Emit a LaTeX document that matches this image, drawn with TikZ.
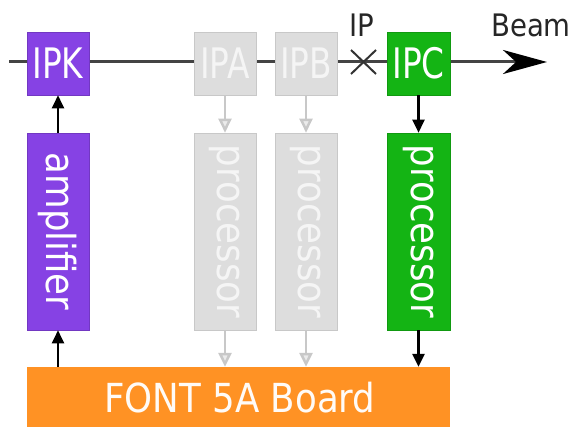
\documentclass[tikz,border=0pt]{standalone}
\usepackage{fontspec}
\setmainfont{DejaVu Sans}[FakeStretch=0.89]
\newfontfamily\ipfont{DejaVu Sans}[FakeStretch=0.78]
\usetikzlibrary{arrows.meta}
\definecolor{ppl}{RGB}{134,66,228}
\definecolor{grn}{RGB}{20,180,20}
\definecolor{org}{RGB}{255,146,36}
\definecolor{lgr}{RGB}{221,221,221}
\definecolor{lgrb}{RGB}{200,200,200}
\definecolor{beamc}{RGB}{68,68,68}
\tikzset{
  box/.style={rectangle, inner sep=0pt, text=white, minimum width=62pt},
  ipbox/.style={box, minimum height=63pt, font=\ipfont\fontsize{42}{50}\selectfont},
  vbox/.style={box, minimum height=197pt},
  vtext/.style={font=\fontsize{40}{48}\selectfont, rotate=-90, inner sep=0pt},
  purp/.style={fill=ppl, draw=ppl!85!black, line width=0.6pt},
  green/.style={fill=grn, draw=grn!85!black, line width=0.6pt},
  grey/.style={fill=lgr, draw=lgrb, line width=0.6pt, text=white!96!black},
  conn/.style={line width=2.5pt, -{Triangle[length=13pt,width=12pt]}},
  gconn/.style={line width=2.5pt, lgrb, -{Triangle[open,length=14pt,width=13pt,fill=lgr!60!white]}},
  lbl/.style={font=\fontsize{31}{36}\selectfont, text=black!85, inner sep=0pt, anchor=base}
}
\begin{document}
\begin{tikzpicture}[x=1pt,y=-1pt]
\useasboundingbox (0,0) rectangle (575,427);
% beam line
\coordinate (bL) at (9,62);
\coordinate (bR) at (547,62);
\draw[beamc, line width=3pt, -{Stealth[length=44pt,width=24pt,inset=13pt,color=black]}] (bL) -- (bR);
% IP boxes
\node[ipbox, purp] (ipk) at (58,63.5) {IPK};
\node[ipbox, grey] (ipa) at (225,63.5) {IPA};
\node[ipbox, grey] (ipb) at (306,63.5) {IPB};
\node[ipbox, green, minimum width=63pt] (ipc) at (418.5,63.5) {IPC};
% IP cross
\coordinate (xa) at (351,50);
\coordinate (xb) at (376,74);
\coordinate (xc) at (351,74);
\coordinate (xd) at (376,50);
\draw[black!80, line width=2pt] (xa) -- (xb) (xc) -- (xd);
\node[lbl] (iplbl) at (362,37) {IP};
\node[lbl] (beamlbl) at (531,37) {Beam};
% vertical boxes
\node[vbox, purp] (amp) at (58,231.5) {};
\node[vtext, text=white] (ampt) at (amp.center) {amplifier};
\node[vbox, grey] (pa) at (225,231.5) {};
\node[vtext, text=white!96!black] (pat) at (pa.center) {processor};
\node[vbox, grey] (pb) at (306,231.5) {};
\node[vtext, text=white!96!black] (pbt) at (pb.center) {processor};
\node[vbox, green, minimum width=63pt] (pc) at (418.5,231.5) {};
\node[vtext, text=white] (pct) at (pc.center) {processor};
% board
\node[rectangle, inner sep=0pt, fill=org, minimum width=423pt, minimum height=60pt] (board) at (238.5,397) {};
\node[font=\fontsize{40}{48}\selectfont, text=white!97!orange, inner sep=0pt, anchor=base] (boardt) at (240,412) {FONT 5A Board};
% connectors
\draw[conn] (amp.north) -- (ipk.south);
\draw[conn] (board.north -| amp.south) -- (amp.south);
\draw[gconn] (ipa.south) -- (pa.north);
\draw[gconn] (ipb.south) -- (pb.north);
\draw[gconn] (pa.south) -- (pa.south |- board.north);
\draw[gconn] (pb.south) -- (pb.south |- board.north);
\draw[conn] (ipc.south) -- (pc.north);
\draw[conn] (pc.south) -- (pc.south |- board.north);
\end{tikzpicture}
\end{document}
